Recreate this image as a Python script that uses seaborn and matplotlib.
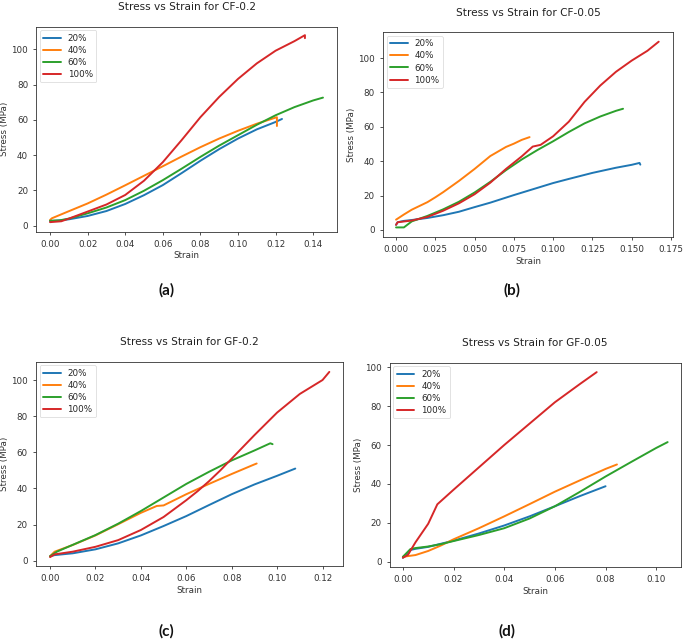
import matplotlib
matplotlib.use("Agg")
import matplotlib.pyplot as plt
import pandas as pd
import seaborn as sns

# ---------------------------------------------------------------------------
# data
# ---------------------------------------------------------------------------
series_labels = ["20%", "40%", "60%", "100%"]

# (a) CF-0.2
cf02_20_strain = [0, 0.005, 0.01, 0.02, 0.03, 0.04, 0.05, 0.06, 0.07, 0.08, 0.09, 0.10, 0.11, 0.12, 0.1234]
cf02_20_stress = [2.6, 3.0, 3.6, 5.5, 8.3, 12.3, 17.3, 23.0, 29.8, 36.8, 43.4, 49.4, 54.6, 58.8, 60.5]
cf02_40_strain = [0, 0.001, 0.01, 0.02, 0.03, 0.04, 0.05, 0.06, 0.07, 0.08, 0.09, 0.10, 0.11, 0.1207, 0.1207]
cf02_40_stress = [3.2, 4.2, 8.2, 12.6, 17.6, 22.9, 28.3, 33.7, 39.2, 44.5, 49.4, 53.8, 57.8, 61.5, 56.5]
cf02_60_strain = [0, 0.005, 0.01, 0.02, 0.03, 0.04, 0.05, 0.06, 0.07, 0.08, 0.09, 0.10, 0.11, 0.12, 0.13, 0.14, 0.1452]
cf02_60_stress = [2.8, 3.0, 4.0, 7.0, 10.3, 14.5, 19.8, 25.8, 32.3, 39.0, 45.4, 51.3, 57.2, 62.6, 67.2, 71.0, 72.6]
cf02_100_strain = [0, 0.006, 0.01, 0.02, 0.03, 0.04, 0.05, 0.06, 0.07, 0.08, 0.09, 0.10, 0.11, 0.12, 0.13, 0.1356, 0.1356]
cf02_100_stress = [2.0, 2.5, 4.0, 8.0, 12.0, 17.4, 25.5, 36.0, 48.5, 61.5, 73.0, 83.2, 92.0, 99.2, 104.6, 108.0, 106.3]

# (b) CF-0.05
cf005_20_strain = [0, 0.001, 0.005, 0.01, 0.02, 0.03, 0.04, 0.05, 0.06, 0.075, 0.09, 0.10, 0.11, 0.125, 0.14, 0.15, 0.155, 0.1555]
cf005_20_stress = [3.0, 4.5, 5.3, 5.8, 7.0, 8.6, 10.6, 13.3, 15.9, 20.3, 24.5, 27.3, 29.7, 33.2, 36.2, 37.9, 39.0, 38.0]
cf005_40_strain = [0, 0.005, 0.01, 0.02, 0.025, 0.03, 0.04, 0.05, 0.06, 0.07, 0.075, 0.08, 0.085]
cf005_40_stress = [6.0, 9.0, 11.8, 16.2, 19.0, 22.0, 28.5, 35.5, 43.0, 48.3, 50.2, 52.4, 54.0]
cf005_60_strain = [0, 0.005, 0.01, 0.02, 0.03, 0.04, 0.05, 0.06, 0.07, 0.08, 0.09, 0.10, 0.11, 0.12, 0.13, 0.14, 0.1445]
cf005_60_stress = [1.5, 1.5, 5.0, 8.2, 12.0, 16.4, 21.8, 28.0, 34.8, 41.0, 46.5, 51.6, 57.0, 62.0, 66.0, 69.3, 70.5]
cf005_100_strain = [0, 0.001, 0.01, 0.02, 0.03, 0.04, 0.05, 0.06, 0.07, 0.08, 0.087, 0.092, 0.10, 0.11, 0.12, 0.13, 0.14, 0.15, 0.16, 0.1672]
cf005_100_stress = [3.0, 4.5, 5.5, 7.6, 11.2, 15.5, 20.8, 27.5, 35.5, 42.8, 48.5, 49.5, 54.5, 63.0, 74.5, 84.0, 92.0, 98.5, 104.2, 109.5]

# (c) GF-0.2
gf02_20_strain = [0, 0.002, 0.01, 0.02, 0.03, 0.04, 0.05, 0.06, 0.07, 0.08, 0.09, 0.10, 0.108]
gf02_20_stress = [2.5, 3.1, 4.1, 6.3, 9.6, 14.0, 19.2, 24.7, 30.8, 36.8, 42.2, 47.0, 51.0]
gf02_40_strain = [0, 0.002, 0.01, 0.02, 0.03, 0.04, 0.047, 0.05, 0.06, 0.07, 0.08, 0.09, 0.091]
gf02_40_stress = [2.5, 5.0, 8.7, 14.0, 20.2, 26.5, 30.3, 30.6, 36.8, 42.5, 48.0, 53.3, 53.8]
gf02_60_strain = [0, 0.003, 0.01, 0.02, 0.03, 0.04, 0.05, 0.06, 0.07, 0.08, 0.09, 0.097, 0.098]
gf02_60_stress = [2.5, 5.0, 8.8, 14.2, 20.5, 27.5, 35.0, 42.5, 49.2, 55.5, 61.0, 65.0, 64.5]
gf02_100_strain = [0, 0.002, 0.01, 0.02, 0.03, 0.04, 0.05, 0.06, 0.065, 0.07, 0.075, 0.08, 0.09, 0.10, 0.11, 0.12, 0.123]
gf02_100_stress = [2.0, 3.5, 5.0, 7.7, 11.4, 17.0, 24.2, 33.5, 38.5, 44.0, 50.0, 56.5, 69.5, 82.0, 92.3, 100.0, 104.5]

# (d) GF-0.05
gf005_20_strain = [0, 0.002, 0.003, 0.005, 0.01, 0.02, 0.03, 0.04, 0.05, 0.06, 0.07, 0.08]
gf005_20_stress = [2.0, 4.0, 6.0, 6.6, 7.6, 10.8, 14.5, 18.6, 23.3, 28.5, 33.8, 38.8]
gf005_40_strain = [0, 0.005, 0.01, 0.015, 0.02, 0.03, 0.04, 0.05, 0.06, 0.07, 0.08, 0.0845]
gf005_40_stress = [2.5, 3.4, 5.5, 8.3, 11.5, 17.2, 23.3, 29.6, 36.0, 41.9, 47.7, 50.0]
gf005_60_strain = [0, 0.003, 0.005, 0.01, 0.015, 0.02, 0.03, 0.04, 0.05, 0.06, 0.07, 0.08, 0.09, 0.10, 0.1045]
gf005_60_stress = [2.5, 6.5, 7.0, 7.8, 9.0, 10.6, 13.7, 17.2, 22.2, 28.5, 36.0, 43.8, 51.2, 58.5, 61.5]
gf005_100_strain = [0, 0.002, 0.005, 0.01, 0.0136, 0.02, 0.03, 0.04, 0.05, 0.06, 0.07, 0.0765]
gf005_100_stress = [2.0, 3.5, 10.0, 19.5, 29.5, 37.0, 48.5, 60.0, 71.0, 82.0, 91.5, 97.5]

panel_titles = ["Stress vs Strain for CF-0.2", "Stress vs Strain for CF-0.05",
                "Stress vs Strain for GF-0.2", "Stress vs Strain for GF-0.05"]
panel_tags = ["(a)", "(b)", "(c)", "(d)"]

panel_series = [
    [(cf02_20_strain, cf02_20_stress), (cf02_40_strain, cf02_40_stress),
     (cf02_60_strain, cf02_60_stress), (cf02_100_strain, cf02_100_stress)],
    [(cf005_20_strain, cf005_20_stress), (cf005_40_strain, cf005_40_stress),
     (cf005_60_strain, cf005_60_stress), (cf005_100_strain, cf005_100_stress)],
    [(gf02_20_strain, gf02_20_stress), (gf02_40_strain, gf02_40_stress),
     (gf02_60_strain, gf02_60_stress), (gf02_100_strain, gf02_100_stress)],
    [(gf005_20_strain, gf005_20_stress), (gf005_40_strain, gf005_40_stress),
     (gf005_60_strain, gf005_60_stress), (gf005_100_strain, gf005_100_stress)],
]

# ---------------------------------------------------------------------------
# layout (pixels of the 685x639 canvas)
# ---------------------------------------------------------------------------
W, H = 685, 639
axes_px = [(36.3, 26.7, 336.7, 231.5), (383, 32.4, 673, 236.7),
           (36, 361.7, 343.4, 566.4), (389.7, 362.8, 680.8, 567.1)]
xlims = [(-0.0073, 0.1525), (-0.0083, 0.1763), (-0.0062, 0.1292), (-0.0052, 0.1097)]
ylims = [(-3.3, 112.8), (-3.9, 114.9), (-3.15, 110.15), (-2.8, 102.3)]
xticks = [[0, 0.02, 0.04, 0.06, 0.08, 0.10, 0.12, 0.14],
          [0, 0.025, 0.05, 0.075, 0.10, 0.125, 0.15, 0.175],
          [0, 0.02, 0.04, 0.06, 0.08, 0.10, 0.12],
          [0, 0.02, 0.04, 0.06, 0.08, 0.10]]
xfmt = ["{:.2f}", "{:.3f}", "{:.2f}", "{:.2f}"]
tag_px = [(167, 290), (512, 290), (166, 631), (507, 631)]

sns.set_style("ticks")
plt.rcParams.update({
    "font.family": "DejaVu Sans",
    "axes.edgecolor": "#333333",
    "axes.linewidth": 0.6,
    "xtick.major.size": 2.3,
    "ytick.major.size": 2.3,
    "xtick.major.width": 0.6,
    "ytick.major.width": 0.6,
    "xtick.labelsize": 6.3,
    "ytick.labelsize": 6.3,
    "xtick.color": "#333333",
    "ytick.color": "#333333",
    "axes.labelsize": 6.3,
    "axes.labelcolor": "#333333",
})

palette = dict(zip(series_labels, sns.color_palette("tab10", 4)))

fig = plt.figure(figsize=(W / 100, H / 100), dpi=100)

for i, series in enumerate(panel_series):
    frames = []
    for lab, (sx, sy) in zip(series_labels, series):
        frames.append(pd.DataFrame({"Strain": sx, "Stress": sy, "Sample": lab}))
    df = pd.concat(frames, ignore_index=True)

    l, t, r, b = axes_px[i]
    ax = fig.add_axes([l / W, 1 - b / H, (r - l) / W, (b - t) / H])
    sns.lineplot(data=df, x="Strain", y="Stress", hue="Sample", hue_order=series_labels,
                 palette=palette, sort=False, estimator=None, linewidth=1.4, ax=ax)
    ax.set_xlim(*xlims[i])
    ax.set_ylim(*ylims[i])
    ax.set_xticks(xticks[i])
    ax.set_xticklabels([xfmt[i].format(v) for v in xticks[i]])
    ax.set_xlabel("Strain", labelpad=2)
    ax.set_ylabel("Stress (MPa)", labelpad=1.5)
    ax.set_title(panel_titles[i], fontsize=7.6, color="#222222", pad=12)
    sns.move_legend(ax, "upper left", title=None, fontsize=6.3, frameon=True,
                    borderaxespad=0.4, handlelength=2.0, labelspacing=0.35)
    ax.get_legend().get_frame().set_linewidth(0.5)

    tx, ty = tag_px[i]
    fig.text(tx / W, 1 - ty / H, panel_tags[i], ha="center", va="center",
             fontsize=11, fontweight="bold", family="Lato", color="#111111")

fig.savefig("out.png", dpi=100)
